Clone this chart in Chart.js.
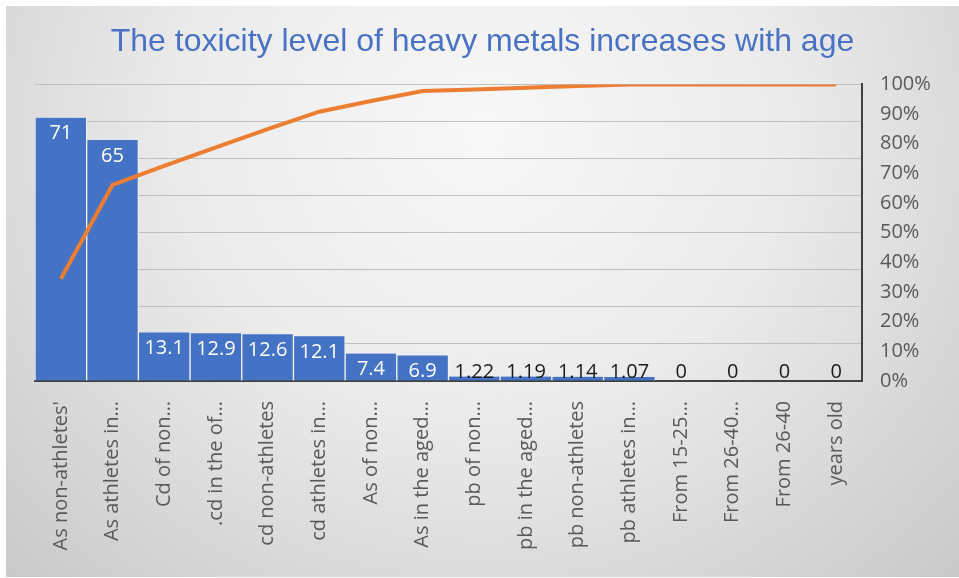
<!DOCTYPE html>
<html>
<head>
<meta charset="utf-8">
<script src="https://cdn.jsdelivr.net/npm/chart.js@4/dist/chart.umd.min.js"></script>
<style>
  html, body { margin: 0; padding: 0; background: #ffffff; }
  #frame {
    position: absolute; left: 6px; top: 6px; width: 953px; height: 571px;
    background: radial-gradient(farthest-corner at 50% 22%, #f8f8f8 0%, #ebebeb 45%, #c9c9c9 100%);
  }
  canvas { display: block; }
</style>
</head>
<body>
<div id="frame"><canvas id="chart"></canvas></div>
<script>
// Heavy-metal toxicity readings (sorted descending) and their running share
const categories = [
  "As non-athletes'", "As athletes in…", "Cd of non…", ".cd in the of…",
  "cd non-athletes", "cd athletes in…", "As of non…", "As in the aged…",
  "pb of non…", "pb in the aged…", "pb non-athletes", "pb athletes in…",
  "From 15-25…", "From 26-40…", "From 26-40", "years old"
];
const levels = [71, 65, 13.1, 12.9, 12.6, 12.1, 7.4, 6.9, 1.22, 1.19, 1.14, 1.07, 0, 0, 0, 0];
const cumulativePct = [34.5, 66.1, 72.5, 78.8, 84.9, 90.8, 94.4, 97.8, 98.3, 98.9, 99.5, 100, 100, 100, 100, 100];
const pctTicks = [0, 10, 20, 30, 40, 50, 60, 70, 80, 90, 100];

const labelFont = '"Open Sans", "Noto Sans", sans-serif';

// Value labels: white inside tall bars, dark just above the axis for short ones
const barValueLabels = {
  id: 'barValueLabels',
  afterDatasetsDraw(chart) {
    const meta = chart.getDatasetMeta(1);
    const ctx = chart.ctx;
    const base = chart.scales.y.getPixelForValue(0);
    ctx.save();
    ctx.font = '20px ' + labelFont;
    ctx.textAlign = 'center';
    ctx.textBaseline = 'middle';
    meta.data.forEach((bar, i) => {
      const v = levels[i];
      if (v >= 5) {
        ctx.fillStyle = '#ffffff';
        ctx.fillText(String(v), bar.x, bar.y + 16);
      } else {
        ctx.fillStyle = '#1a1a1a';
        ctx.fillText(String(v), bar.x, base - 9);
      }
    });
    ctx.restore();
  }
};

new Chart(document.getElementById('chart'), {
  data: {
    labels: categories,
    datasets: [
      {
        type: 'line',
        data: cumulativePct,
        yAxisID: 'y1',
        borderColor: '#ED7D31',
        borderWidth: 4,
        pointRadius: 0,
        tension: 0,
        order: 0
      },
      {
        type: 'bar',
        data: levels,
        yAxisID: 'y',
        backgroundColor: '#4472C4',
        borderColor: '#f4f4f4',
        borderWidth: { left: 1, right: 1, top: 0, bottom: 0 },
        borderSkipped: false,
        barPercentage: 1.0,
        categoryPercentage: 1.0,
        order: 1
      }
    ]
  },
  options: {
    responsive: true,
    maintainAspectRatio: false,
    animation: false,
    layout: { padding: 0 },
    plugins: {
      legend: { display: false },
      tooltip: { enabled: false },
      title: {
        display: true,
        text: 'The toxicity level of heavy metals increases with age',
        color: '#4a72c4',
        font: { family: '"Liberation Sans", Arial, sans-serif', size: 32, weight: 'normal' },
        padding: { top: 17, bottom: 23 }
      }
    },
    scales: {
      x: {
        z: 1,
        grid: { display: false, drawTicks: false },
        border: { display: true, color: '#404040', width: 2 },
        ticks: {
          color: '#595959',
          font: { family: labelFont, size: 20 },
          minRotation: 90, maxRotation: 90,
          autoSkip: false,
          padding: 20
        },
        afterFit(s) { s.height = 196; }
      },
      y: {
        position: 'left',
        min: 0, max: 80,
        ticks: { display: false, stepSize: 10 },
        grid: { color: '#bfbfbf', lineWidth: 1, drawTicks: false },
        border: { display: false },
        afterFit(s) { s.width = 29; }
      },
      y1: {
        position: 'right',
        min: 0, max: 100,
        afterBuildTicks(s) { s.ticks = pctTicks.map(v => ({ value: v })); },
        ticks: {
          color: '#595959',
          font: { family: labelFont, size: 20 },
          padding: 18,
          callback: v => v + '%'
        },
        grid: { display: false, drawTicks: false },
        border: { display: true, color: '#404040', width: 2 },
        afterFit(s) { s.width = 97; }
      }
    }
  },
  plugins: [barValueLabels]
});
</script>
</body>
</html>
